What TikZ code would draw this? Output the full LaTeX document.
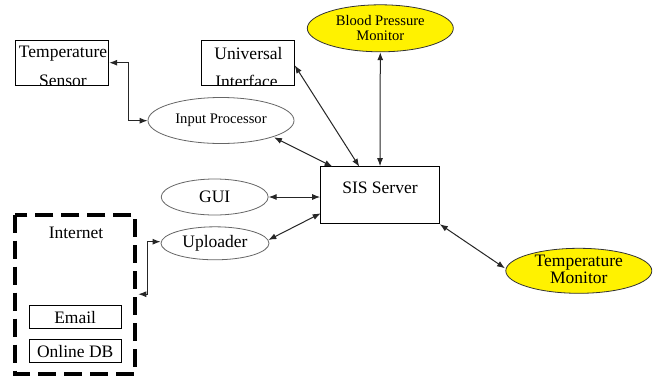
\documentclass[tikz,border=0pt]{standalone}
\usepackage{fontspec}
\setmainfont{Liberation Serif}
\usetikzlibrary{arrows.meta,shapes.geometric}
\begin{document}
\begin{tikzpicture}[x=1pt,y=-1pt,
  conn/.style={draw=black!85,line width=1pt,{Latex[length=8pt,width=6pt]}-{Latex[length=8pt,width=6pt]}},
  boxline/.style={draw=black,line width=1pt},
  ell/.style={ellipse,draw=black!60,line width=0.8pt,inner sep=0pt},
  yell/.style={ellipse,draw=black!80,fill=yellow,line width=0.8pt,inner sep=0pt},
  big/.style={font=\fontsize{17.5}{17.5}\selectfont},
  small/.style={font=\fontsize{14.6}{15.3}\selectfont,align=center},
  lbl/.style={inner sep=0pt,anchor=center}]
\useasboundingbox (0,0) rectangle (660,378);
\fill[white] (0,0) rectangle (660,378);

% Temperature Sensor
\node[boxline,minimum width=93pt,minimum height=44.6pt,inner sep=0pt] (ts) at (62.2,63) {};
\begin{scope}
\clip (ts.south west) rectangle (ts.north east);
\node[lbl,big] (tst) at (63,54) {Temperature};
\node[lbl,big] (tss) at (63,81) {Sensor};
\end{scope}

% Universal Interface
\node[boxline,minimum width=93pt,minimum height=44.6pt,inner sep=0pt] (ui) at (248.2,63) {};
\begin{scope}
\clip (ui.south west) rectangle (ui.north east);
\node[lbl,big] (uit) at (248.5,54) {Universal};
\node[lbl,big] (uis) at (246.5,81) {Interface};
\end{scope}

% Blood Pressure Monitor
\node[yell,minimum width=146pt,minimum height=47pt] (bp) at (380.3,28.3) {};
\node[lbl,small] (bpt) at (380.3,28.3) {Blood Pressure\\Monitor};

% Input Processor
\node[ell,minimum width=146pt,minimum height=46pt] (ip) at (221,120.5) {};
\node[lbl,small] (ipt) at (221,120.5) {Input Processor};

% SIS Server
\node[boxline,minimum width=118.6pt,minimum height=57pt,inner sep=0pt] (sis) at (380,195.2) {};
\node[lbl,big] (sist) at (380,187.3) {SIS Server};

% GUI
\node[ell,minimum width=107pt,minimum height=36pt] (gui) at (214.7,197) {};
\node[lbl,big] (guit) at (214.7,197) {GUI};

% Uploader
\node[ell,minimum width=108pt,minimum height=33pt] (up) at (215,243.3) {};
\node[lbl,big] (upt) at (215,243.3) {Uploader};

% Temperature Monitor
\node[yell,minimum width=146pt,minimum height=45pt] (tm) at (578.8,270.8) {};
\node[lbl,big,align=center,font=\fontsize{17.5}{15}\selectfont] (tmt) at (578.8,269.5) {Temperature\\Monitor};

% Internet group
\draw[line width=4pt,dash pattern=on 18pt off 8pt] (15.3,214.7) rectangle (135.3,373.7);
\node (inet) at (135.3,294.2) {};
\node[lbl,big] (inett) at (76,233.3) {Internet};
\node[boxline,minimum width=91.7pt,minimum height=22.6pt,inner sep=0pt] (em) at (75.2,317) {};
\node[lbl,big] (emt) at (75.2,317.5) {Email};
\node[boxline,minimum width=91.7pt,minimum height=23.4pt,inner sep=0pt] (odb) at (75.2,351) {};
\node[lbl,big] (odbt) at (75.2,351.5) {Online DB};

% connectors
\coordinate (c1) at (128.3,62.7);
\coordinate (c2) at (128.3,120.7);
\draw[conn] (ts.east |- c1) -- (c1) -- (c2) -- (ip.west |- c2);

\coordinate (uiA) at (294.7,65.3);
\coordinate (sisA) at (359.3,166.7);
\draw[conn] (uiA) -- (sisA);

\draw[conn] (bp.south) -- (sis.north);

\coordinate (ipA) at (274,137.3);
\coordinate (sisB) at (332.5,166.7);
\draw[conn] (ipA) -- (sisB);

\draw[conn] (gui.east) -- (sis.west |- gui.east);

\coordinate (upA) at (268.3,240);
\coordinate (sisC) at (320.7,213.3);
\draw[conn] (upA) -- (sisC);

\coordinate (tmA) at (505,268.3);
\draw[conn] (sis.south east) -- (tmA);

\coordinate (c3) at (147.3,241.7);
\coordinate (c4) at (147.3,294.2);
\coordinate (c5) at (138.3,294.2);
\draw[conn] (up.west |- c3) -- (c3) -- (c4) -- (c5);
\end{tikzpicture}
\end{document}
